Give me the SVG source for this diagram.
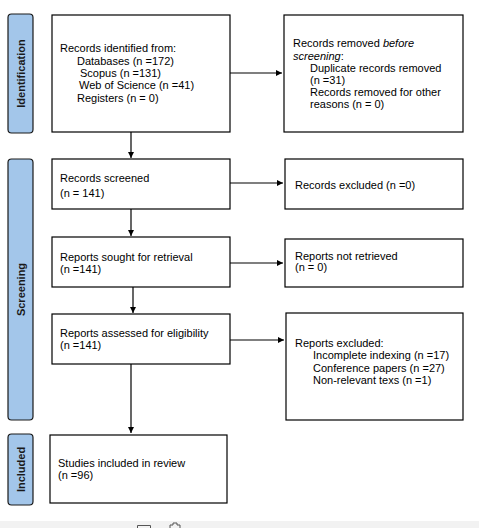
<svg xmlns="http://www.w3.org/2000/svg" width="479" height="528" viewBox="0 0 479 528">
<style>
.box{fill:#fff;stroke:#000;stroke-width:1.2}
.side{fill:#a3c6ea;stroke:#1a1a1a;stroke-width:1.2}
.t{font-family:"Liberation Sans",Arial,sans-serif;font-size:11px;fill:#000}
.s{font-family:"Liberation Sans",Arial,sans-serif;font-size:11px;font-weight:bold;fill:#1a1a1a;text-anchor:middle}
.c{stroke:#000;stroke-width:1.2;fill:none;marker-end:url(#ah)}
</style>
<defs>
<marker id="ah" viewBox="0 0 10 10" refX="10" refY="5" markerWidth="6" markerHeight="6" markerUnits="userSpaceOnUse" orient="auto">
<path d="M0,0 L10,5 L0,10 Z" fill="#000"/>
</marker>
</defs>
<rect x="0" y="0" width="479" height="528" fill="#fff"/>
<rect x="0" y="521" width="479" height="7" fill="#f2f2f2"/>
<path d="M137.5,528 V525.5 H150.5 V528" fill="none" stroke="#555" stroke-width="1"/>
<path d="M170,528 V525 H173 V523 H177 V525 H180 V528" fill="none" stroke="#555" stroke-width="1"/>

<g id="side-identification">
<rect class="side" x="8" y="14" width="25" height="119" rx="3.5"/>
<text class="s" transform="translate(24.5,73.5) rotate(-90)">Identification</text>
</g>
<g id="side-screening">
<rect class="side" x="8" y="159" width="25" height="261" rx="3.5"/>
<text class="s" transform="translate(24.5,289.5) rotate(-90)">Screening</text>
</g>
<g id="side-included">
<rect class="side" x="8" y="434" width="25" height="71" rx="3.5"/>
<text class="s" transform="translate(24.5,469.5) rotate(-90)">Included</text>
</g>

<g id="records-identified">
<rect class="box" x="52" y="15" width="178" height="117"/>
<text class="t" x="60" y="52">Records identified from:</text>
<text class="t" x="77" y="65">Databases (n =172)</text>
<text class="t" x="80" y="77">Scopus (n =131)</text>
<text class="t" x="79" y="89">Web of Science (n =41)</text>
<text class="t" x="77" y="102">Registers (n = 0)</text>
</g>
<g id="records-removed">
<rect class="box" x="284" y="15" width="179" height="117"/>
<text class="t" x="293" y="47">Records removed <tspan font-style="italic">before</tspan></text>
<text class="t" x="293" y="60"><tspan font-style="italic">screening</tspan>:</text>
<text class="t" x="310" y="72">Duplicate records removed</text>
<text class="t" x="310" y="84">(n =31)</text>
<text class="t" x="310" y="96">Records removed for other</text>
<text class="t" x="310" y="108">reasons (n = 0)</text>
</g>
<g id="records-screened">
<rect class="box" x="52" y="159" width="178" height="50"/>
<text class="t" x="60" y="182">Records screened</text>
<text class="t" x="60" y="197">(n = 141)</text>
</g>
<g id="records-excluded">
<rect class="box" x="285" y="159" width="178" height="50"/>
<text class="t" x="295" y="189">Records excluded (n =0)</text>
</g>
<g id="reports-sought">
<rect class="box" x="52" y="237" width="178" height="50"/>
<text class="t" x="60" y="261">Reports sought for retrieval</text>
<text class="t" x="60" y="273">(n =141)</text>
</g>
<g id="reports-not-retrieved">
<rect class="box" x="285" y="239" width="178" height="48"/>
<text class="t" x="295" y="260">Reports not retrieved</text>
<text class="t" x="295" y="271">(n = 0)</text>
</g>
<g id="reports-assessed">
<rect class="box" x="52" y="314" width="178" height="50"/>
<text class="t" x="60" y="337">Reports assessed for eligibility</text>
<text class="t" x="60" y="349">(n =141)</text>
</g>
<g id="reports-excluded">
<rect class="box" x="286" y="313" width="177" height="107"/>
<text class="t" x="295" y="347">Reports excluded:</text>
<text class="t" x="313" y="359">Incomplete indexing (n =17)</text>
<text class="t" x="313" y="372">Conference papers (n =27)</text>
<text class="t" x="313" y="384">Non-relevant texs (n =1)</text>
</g>
<g id="studies-included">
<rect class="box" x="50" y="435" width="177" height="68"/>
<text class="t" x="58" y="467">Studies included in review</text>
<text class="t" x="58" y="479">(n =96)</text>
</g>

<g id="connectors">
<line class="c" x1="230" y1="73" x2="282" y2="73"/>
<line class="c" x1="131" y1="132" x2="131" y2="158"/>
<line class="c" x1="230" y1="183" x2="283" y2="183"/>
<line class="c" x1="131" y1="209" x2="131" y2="236"/>
<line class="c" x1="230" y1="263" x2="283" y2="263"/>
<line class="c" x1="133" y1="287" x2="133" y2="313"/>
<line class="c" x1="230" y1="340" x2="284" y2="340"/>
<line class="c" x1="131" y1="364" x2="131" y2="433"/>
</g>
</svg>
